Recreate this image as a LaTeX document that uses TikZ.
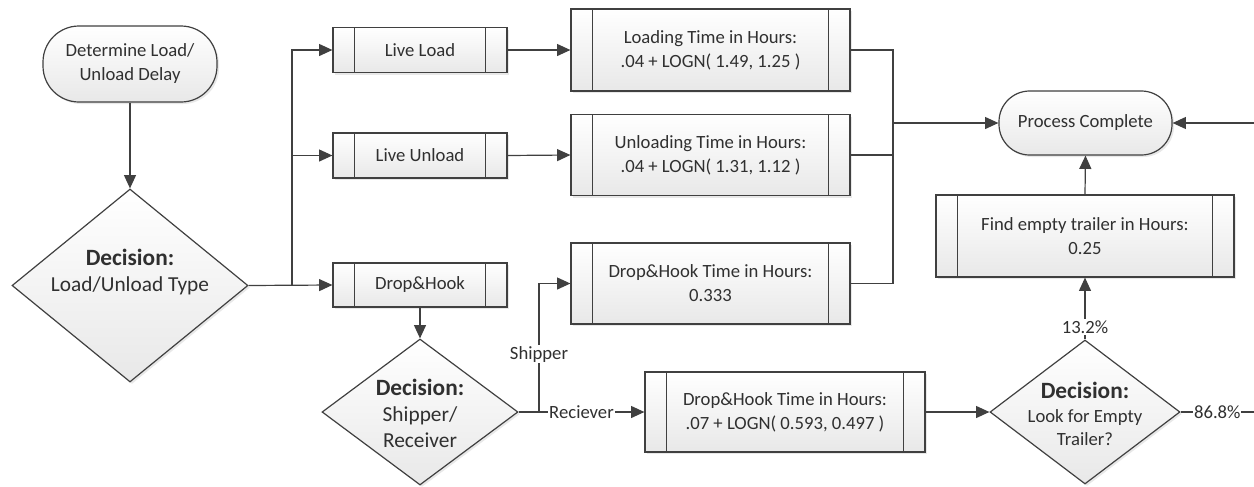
\documentclass[tikz,border=0pt]{standalone}
\usepackage{fontspec}
\setmainfont{Carlito}
\usetikzlibrary{shapes.geometric,arrows.meta,shadows,calc}
\definecolor{lc}{HTML}{404040}
\definecolor{tc}{HTML}{303030}
\tikzset{
  shp/.style={draw=lc, line width=0.9pt, top color=white, bottom color=black!9,
    drop shadow={shadow xshift=1.5pt,shadow yshift=-1.5pt,opacity=0.18},
    text=tc, font=\fontsize{14}{18}\selectfont, align=center, inner sep=0pt},
  sub/.style={shp, rectangle, path picture={\draw[lc,line width=0.9pt]
      ([xshift=16pt]path picture bounding box.north west) -- ([xshift=16pt]path picture bounding box.south west)
      ([xshift=-16pt]path picture bounding box.north east) -- ([xshift=-16pt]path picture bounding box.south east);}},
  term/.style={shp, rectangle},
  dec/.style={shp, diamond},
  ln/.style={draw=lc, line width=0.9pt},
  arr/.style={ln, -{Triangle[length=10pt,width=9pt]}},
  lbl/.style={fill=white, text=tc, font=\fontsize{14}{16}\selectfont, inner sep=1pt},
  dtxt/.style={text=tc, align=center, inner sep=0pt},
}
\newcommand\decw{\fontsize{17.5}{20}\selectfont\bfseries Decision:}
\begin{document}
\begin{tikzpicture}[x=0.75pt,y=-0.75pt]
\useasboundingbox (0,0) rectangle (1254,486);
% terminals
\node[term, minimum width=174*0.75pt, minimum height=76*0.75pt, rounded corners=27pt] (start) at (130,64) {Determine Load/\\Unload Delay};
\node[term, minimum width=173*0.75pt, minimum height=64*0.75pt, rounded corners=23pt] (pc) at (1085.5,123) {Process Complete};
% diamonds
\node[dec, minimum width=236*0.75pt, minimum height=193*0.75pt] (d1) at (130,285.5) {};
\node[dtxt, font=\fontsize{16}{20}\selectfont] (d1t) at (130,272) {{\decw}\\Load/Unload Type};
\node[dec, minimum width=196*0.75pt, minimum height=146*0.75pt] (d2) at (420,412) {};
\node[dtxt, font=\fontsize{16}{19.5}\selectfont] (d2t) at (420,413) {{\decw}\\Shipper/\\Receiver};
\node[dec, minimum width=190*0.75pt, minimum height=144*0.75pt] (d3) at (1085,412) {};
\node[dtxt, font=\fontsize{14}{17.5}\selectfont] (d3t) at (1085,414) {{\decw}\\Look for Empty\\Trailer?};
% subroutine boxes
\node[sub, minimum width=174*0.75pt, minimum height=45*0.75pt] (ll) at (420,50) {Live Load};
\node[sub, minimum width=174*0.75pt, minimum height=45*0.75pt] (lu) at (420,155.5) {Live Unload};
\node[sub, minimum width=174*0.75pt, minimum height=44*0.75pt] (dh) at (420,285) {Drop\&Hook};
\node[sub, minimum width=279*0.75pt, minimum height=82*0.75pt] (lt) at (710.5,50) {Loading Time in Hours:\\.04 + LOGN( 1.49, 1.25 )};
\node[sub, minimum width=279*0.75pt, minimum height=81*0.75pt] (ut) at (710.5,155) {Unloading Time in Hours:\\.04 + LOGN( 1.31, 1.12 )};
\node[sub, minimum width=279*0.75pt, minimum height=81*0.75pt] (dt) at (710.5,283.5) {Drop\&Hook Time in Hours:\\0.333};
\node[sub, minimum width=280*0.75pt, minimum height=80*0.75pt] (rt) at (785,412) {Drop\&Hook Time in Hours:\\.07 + LOGN( 0.593, 0.497 )};
\node[sub, minimum width=298*0.75pt, minimum height=82*0.75pt] (fe) at (1085,236) {Find empty trailer in Hours:\\0.25};
% coordinates
\coordinate (j1) at (292,285);
\coordinate (j2) at (539,412);
\coordinate (m) at (893,123);
\coordinate (e1) at (1254,412);
\coordinate (e2) at (1254,123);
% connectors
\draw[arr] (start) -- (d1);
\draw[arr] (d1.east) -- (dh.west);
\draw[arr] (j1) |- (lu.west);
\draw[arr] (j1) |- (ll.west);
\draw[arr] (ll.east) -- (lt.west);
\draw[arr] (lu.east) -- (ut.west);
\draw[arr] (dh.south) -- (d2.north);
\draw[arr] (d2.east) -- node[lbl, pos=0.5] (rl) {Reciever} (rt.west);
\draw[arr] (j2) -- node[lbl, pos=0.45] (sl) {Shipper} (j2 |- dt.west) -- (dt.west);
\draw[ln] (lt.east) -- (lt.east -| m) -- (dt.east -| m) -- (dt.east);
\draw[ln] (ut.east) -- (ut.east -| m);
\draw[arr] (m) -- (pc.west);
\draw[arr] (rt.east) -- (d3.west);
\draw[arr] (d3.north) -- node[lbl, pos=0.2] (l13) {13.2\%} (fe.south);
\draw[arr] (fe.north) -- (pc.south);
\draw[ln] (d3.east) -- node[lbl, pos=0.5, inner sep=0.5pt] (l86) {86.8\%} (e1);
\draw[arr] (e2) -- (pc.east);
\end{tikzpicture}
\end{document}
